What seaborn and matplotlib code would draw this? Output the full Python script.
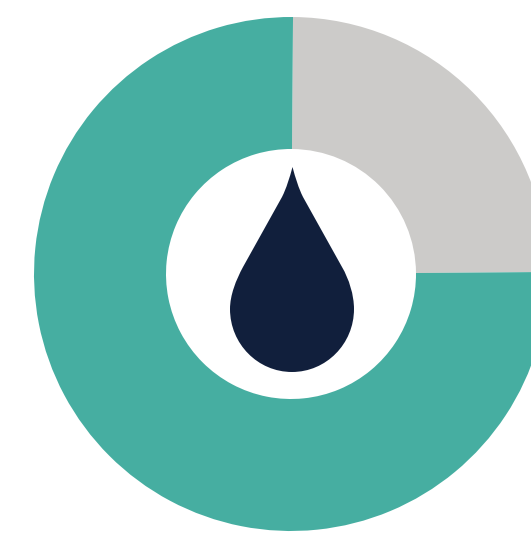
import matplotlib
matplotlib.use("Agg")
import matplotlib.pyplot as plt
import seaborn as sns
from matplotlib.patches import PathPatch
from matplotlib.path import Path

# share of the ring, clockwise from the top
labels = ["Grey", "Teal"]
shares = [24.75, 75.25]

W, H = 531, 533
CX, CY = 291, 274
R_OUT, R_IN = 257, 125


def flip(pts):
    # picture pixels have y going down
    return [(x, H - y) for x, y in pts]


# water drop outline, in picture pixels
drop_pts = [
    (292.5, 167),
    (289.5, 178), (286.5, 188), (282, 197),
    (243, 267),
    (236, 280), (230, 295), (230, 309),
    (230, 344), (258, 372), (292, 372),
    (326, 372), (354, 344), (354, 309),
    (354, 295), (349, 279), (342, 267),
    (303, 197),
    (298.5, 188), (295.5, 178), (292.5, 167),
]
drop_codes = [
    Path.MOVETO,
    Path.CURVE4, Path.CURVE4, Path.CURVE4,
    Path.LINETO,
    Path.CURVE4, Path.CURVE4, Path.CURVE4,
    Path.CURVE4, Path.CURVE4, Path.CURVE4,
    Path.CURVE4, Path.CURVE4, Path.CURVE4,
    Path.CURVE4, Path.CURVE4, Path.CURVE4,
    Path.LINETO,
    Path.CURVE4, Path.CURVE4, Path.CURVE4,
]

sns.set_theme(style="white")
palette = sns.color_palette(["#CCCBC9", "#46AEA1"])

fig = plt.figure(figsize=(W / 100, H / 100), dpi=100)
ax = fig.add_axes([0, 0, 1, 1])

ax.pie(
    shares,
    colors=palette,
    startangle=89.55,
    counterclock=False,
    center=(CX, H - CY),
    radius=R_OUT,
    wedgeprops={"width": R_OUT - R_IN, "linewidth": 0},
)
ax.add_patch(PathPatch(Path(flip(drop_pts), drop_codes), facecolor="#111F3C", edgecolor="none"))

ax.set_xlim(0, W)
ax.set_ylim(0, H)
ax.set_aspect("equal")
ax.axis("off")

fig.savefig("out.png", dpi=100)
